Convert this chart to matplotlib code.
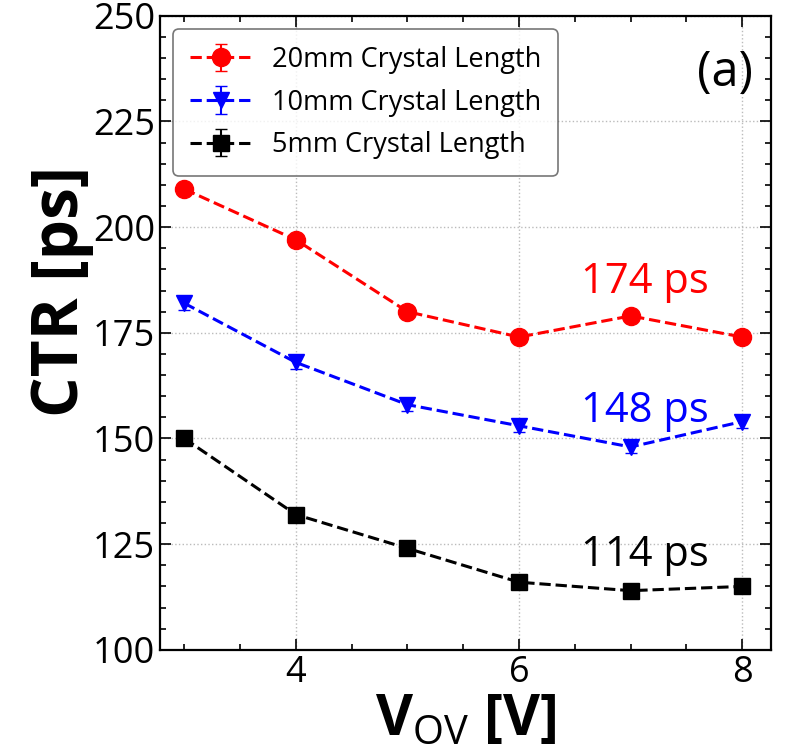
import matplotlib
matplotlib.use("Agg")
import matplotlib.pyplot as plt
from matplotlib.ticker import MultipleLocator

plt.rcParams["font.family"] = ["Open Sans", "DejaVu Sans"]
plt.rcParams["mathtext.fontset"] = "custom"
plt.rcParams["mathtext.rm"] = "Open Sans"
plt.rcParams["mathtext.bf"] = "Open Sans:bold"

vov = [3, 4, 5, 6, 7, 8]
ctr_20mm = [209, 197, 180, 174, 179, 174]
ctr_10mm = [182, 168, 158, 153, 148, 154]
ctr_5mm = [150, 132, 124, 116, 114, 115]
err_20mm = [1.0, 1.0, 1.0, 1.0, 1.0, 1.0]
err_10mm = [1.5, 1.5, 1.5, 1.5, 1.5, 1.5]
err_5mm = [1.0, 1.0, 1.0, 1.0, 1.0, 1.0]

labels = ["20mm Crystal Length", "10mm Crystal Length", "5mm Crystal Length"]
best = ["174 ps", "148 ps", "114 ps"]

fig = plt.figure(figsize=(7.87, 7.53), dpi=100)
ax = fig.add_axes([0.203, 0.137, 0.777, 0.842])

series = [
    (ctr_20mm, err_20mm, "red", "o", 13),
    (ctr_10mm, err_10mm, "blue", "v", 12),
    (ctr_5mm, err_5mm, "black", "s", 12),
]
for (y, e, c, m, ms), lab in zip(series, labels):
    ax.errorbar(vov, y, yerr=e, color=c, marker=m, markersize=ms,
                linestyle="--", linewidth=2.2, capsize=4, elinewidth=1.5,
                label=lab)

ax.text(7.13, 187, best[0], color="red", fontsize=30, ha="center", va="center")
ax.text(7.13, 156.5, best[1], color="blue", fontsize=30, ha="center", va="center")
ax.text(7.13, 122.5, best[2], color="black", fontsize=30, ha="center", va="center")
ax.text(0.97, 0.91, "(a)", transform=ax.transAxes, fontsize=35,
        ha="right", va="center")

ax.set_xlim(2.78, 8.26)
ax.set_ylim(100, 250)
ax.xaxis.set_major_locator(MultipleLocator(2))
ax.xaxis.set_minor_locator(MultipleLocator(0.5))
ax.yaxis.set_major_locator(MultipleLocator(25))
ax.yaxis.set_minor_locator(MultipleLocator(5))
ax.tick_params(which="both", direction="in", top=True, right=True,
               labelsize=26, width=1.2)
ax.tick_params(which="major", length=8)
ax.tick_params(which="minor", length=4)
ax.grid(True, which="major", linestyle=":", color="#bbbbbb", linewidth=1)
for s in ax.spines.values():
    s.set_linewidth(1.6)

ax.set_xlabel(r"$\mathbf{V}_{\mathrm{OV}}$ [V]", fontsize=41, fontweight="bold",
              labelpad=0)
ax.set_ylabel("CTR [ps]", fontsize=46, fontweight="bold")
ax.yaxis.set_label_coords(-0.108, 0.565)

leg = ax.legend(loc="upper left", fontsize=19.5, frameon=True, fancybox=True,
                edgecolor="#555555", handlelength=2.3, labelspacing=0.55,
                handletextpad=0.75, borderpad=0.6)
leg.get_frame().set_linewidth(1.2)

fig.savefig("out.png", dpi=100)
